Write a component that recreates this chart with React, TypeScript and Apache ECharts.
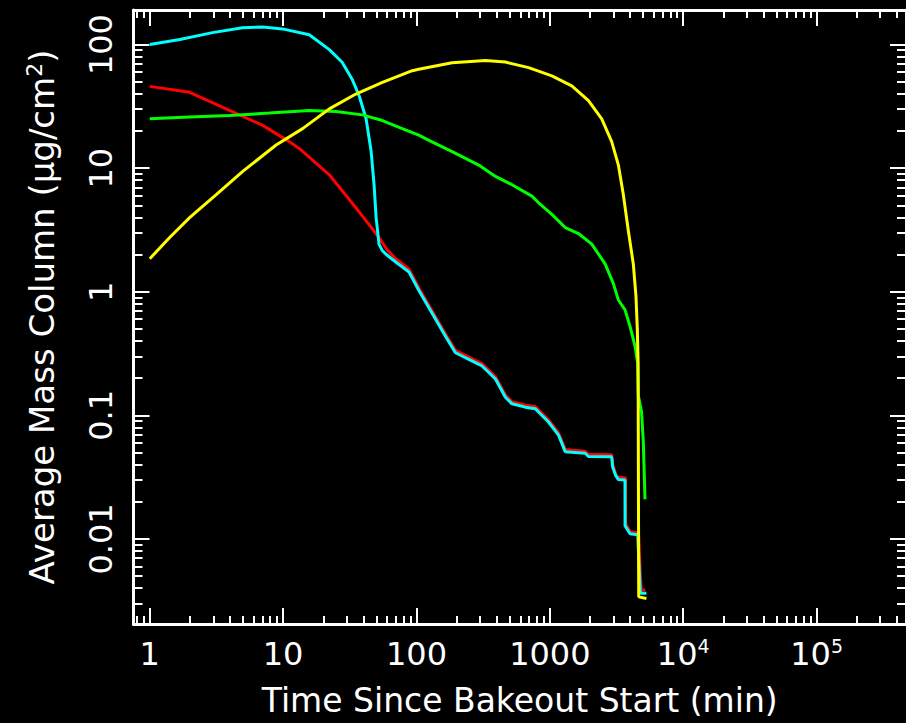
import React, { useEffect, useRef } from 'react';
import * as echarts from 'echarts';

// Axis ranges (values)
const X_MIN = 0.7552;
const X_MAX = 4.684e5;
const Y_MIN = 0.00205;
const Y_MAX = 190.5;

// Tick labels
const xMajorTicks = [1, 10, 100, 1000, 10000, 100000];
const xTickLabels = ['1', '10', '100', '1000', '10^4', '10^5'];
const yMajorTicks = [0.01, 0.1, 1, 10, 100];
const yTickLabels = ['0.01', '0.1', '1', '10', '100'];
const minorMantissas = [2, 3, 4, 5, 6, 7, 8, 9];
const xDecades = [-1, 0, 1, 2, 3, 4, 5];
const yDecades = [-3, -2, -1, 0, 1, 2];

// Series: [time (min), average mass column (ug/cm^2)]
const redSeries = [
  [1, 45.9], [1.99, 41.1], [3.96, 29.3], [7.03, 22.2], [11.1, 16.4], [13.2, 14.45], [22.2, 8.84],
  [35.1, 4.79], [52.4, 2.75], [60, 2.2], [69.9, 1.85], [87.9, 1.52], [104, 1.08], [131, 0.70],
  [165, 0.455], [196, 0.335], [247, 0.296], [310, 0.262], [391, 0.205], [464, 0.146], [520, 0.129],
  [655, 0.121], [778, 0.118], [977, 0.092], [1162, 0.072], [1304, 0.053], [1840, 0.0512],
  [1948, 0.0485], [2909, 0.048], [2960, 0.040], [3170, 0.0318], [3700, 0.0312], [3705, 0.0133],
  [4000, 0.0114], [4620, 0.0112], [4780, 0.005], [4850, 0.00386], [5200, 0.00386],
];
const cyanSeries = [
  [1, 100], [1.68, 110], [2.96, 125], [4.96, 137], [7.0, 139], [9.9, 134], [15.7, 120], [22.2, 91],
  [27.7, 72], [32.9, 52.5], [37.2, 38.4], [41.9, 25.1], [45.7, 13.7], [48.1, 7.3], [49.8, 4.0],
  [52.4, 2.42], [55.2, 2.17], [58.8, 2.02], [69.9, 1.74], [87.9, 1.445], [104, 1.03], [131, 0.67],
  [165, 0.437], [196, 0.321], [247, 0.284], [310, 0.251], [391, 0.197], [464, 0.14], [520, 0.124],
  [655, 0.1165], [778, 0.113], [977, 0.0884], [1162, 0.0692], [1304, 0.0508], [1840, 0.0494],
  [1948, 0.0464], [2909, 0.0462], [2960, 0.038], [3100, 0.033], [3265, 0.0302], [3660, 0.030],
  [3665, 0.0128], [3991, 0.011], [4560, 0.0108], [4760, 0.0038], [4800, 0.00363], [5300, 0.00363],
];
const greenSeries = [
  [1, 25.1], [1.99, 25.9], [3.96, 26.7], [7.89, 27.9], [15.7, 29.3], [24.9, 28.7], [39.3, 27.0],
  [55.5, 24.3], [78.3, 20.9], [104, 18.5], [124, 16.8], [185, 13.6], [293, 10.6], [391, 8.58],
  [520, 7.35], [734, 5.94], [824, 5.25], [1036, 4.23], [1304, 3.31], [1640, 2.96], [2062, 2.43],
  [2596, 1.68], [2995, 1.165], [3265, 0.858], [3663, 0.714], [3992, 0.525], [4352, 0.363],
  [4550, 0.267], [4606, 0.1445], [4875, 0.1063], [5020, 0.0612], [5170, 0.0209],
];
const yellowSeries = [
  [1, 1.85], [1.41, 2.75], [1.99, 3.98], [3.15, 6.11], [4.98, 9.41], [8.86, 15.4], [14.0, 20.9],
  [22.2, 30.2], [35.1, 39.8], [55.5, 49.4], [93, 61.5], [104, 63.1], [185, 71.4], [329, 74.5],
  [464, 72.2], [693, 65.1], [1035, 55.8], [1461, 46.4], [1948, 35.2], [2449, 25.1], [2909, 16.4],
  [3265, 10.6], [3556, 6.11], [3877, 3.12], [4226, 1.68], [4426, 0.912], [4529, 0.494],
  [4590, 0.267], [4640, 0.0034], [5300, 0.0033],
];

const FONT = 'DejaVu Sans';
const WHITE = '#ffffff';

function findLabel(v: number, ticks: number[], labels: string[]) {
  const i = ticks.findIndex((t) => Math.abs(Math.log10(v) - Math.log10(t)) < 1e-6);
  if (i < 0) return '';
  const lab = labels[i];
  if (lab.includes('^')) {
    const [b, e] = lab.split('^');
    return `{b|${b}}{s|${e}}`;
  }
  return `{b|${lab}}`;
}

const labelRich = {
  b: { fontFamily: FONT, fontSize: 32, lineHeight: 36, color: WHITE },
  s: { fontFamily: FONT, fontSize: 19, lineHeight: 18, color: WHITE, verticalAlign: 'top' },
};

export default function App() {
  const ref = useRef<HTMLDivElement>(null);
  useEffect(() => {
    if (!ref.current) return;
    const chart = echarts.init(ref.current, undefined, { renderer: 'svg' });
    const xLogMin = Math.log10(X_MIN);
    const xLogMax = Math.log10(X_MAX);
    const yLogMin = Math.log10(Y_MIN);
    const yLogMax = Math.log10(Y_MAX);
    const xMajorPos = xMajorTicks.map((t) => Math.log10(t));
    const yMajorPos = yMajorTicks.map((t) => Math.log10(t));
    const xMinorPos = xDecades
      .flatMap((d) => minorMantissas.map((m) => d + Math.log10(m)))
      .filter((v) => v > xLogMin && v < xLogMax);
    const yMinorPos = yDecades
      .flatMap((d) => minorMantissas.map((m) => d + Math.log10(m)))
      .filter((v) => v > yLogMin && v < yLogMax);

    const lineOn = { show: true, onZero: false, lineStyle: { color: WHITE, width: 3 } };
    const hidden = { show: false };

    const tickAxis = (pos: string, min: number, max: number, vals: number[], len: number) => ({
      type: 'value', position: pos, min, max,
      axisLine: { show: false, onZero: false }, axisLabel: hidden, splitLine: hidden,
      axisTick: { show: true, inside: true, length: len, customValues: vals, lineStyle: { color: WHITE, width: 2 } },
    });

    chart.setOption({
      animation: false,
      backgroundColor: '#000000',
      grid: { left: 133.5, top: 10, width: 775, height: 621, containLabel: false },
      xAxis: [
        {
          type: 'log', logBase: 10, position: 'bottom', min: X_MIN, max: X_MAX,
          axisLine: lineOn, axisTick: hidden, splitLine: hidden,
          axisLabel: {
            show: true, margin: 12, showMinLabel: false, showMaxLabel: false,
            formatter: (v: number) => findLabel(v, xMajorTicks, xTickLabels), rich: labelRich,
          },
          name: 'Time Since Bakeout Start (min)', nameLocation: 'middle', nameGap: 58,
          nameTextStyle: { fontFamily: FONT, fontSize: 33, lineHeight: 36, color: WHITE },
        },
        {
          type: 'log', logBase: 10, position: 'top', min: X_MIN, max: X_MAX,
          axisLine: lineOn, axisTick: hidden, splitLine: hidden, axisLabel: hidden,
        },
        tickAxis('bottom', xLogMin, xLogMax, xMajorPos, 16),
        tickAxis('bottom', xLogMin, xLogMax, xMinorPos, 8),
        tickAxis('top', xLogMin, xLogMax, xMajorPos, 16),
        tickAxis('top', xLogMin, xLogMax, xMinorPos, 8),
      ],
      yAxis: [
        {
          type: 'log', logBase: 10, position: 'left', min: Y_MIN, max: Y_MAX,
          axisLine: lineOn, axisTick: hidden, splitLine: hidden,
          axisLabel: {
            show: true, margin: 15, rotate: 90, showMinLabel: false, showMaxLabel: false,
            formatter: (v: number) => findLabel(v, yMajorTicks, yTickLabels), rich: labelRich,
          },
          name: '{a|Average Mass Column (μg/cm}{s|2}{a|)}', nameLocation: 'middle', nameGap: 74,
          nameTextStyle: {
            color: WHITE,
            rich: {
              a: { fontFamily: FONT, fontSize: 34, lineHeight: 36, color: WHITE },
              s: { fontFamily: FONT, fontSize: 22, lineHeight: 20, color: WHITE, verticalAlign: 'top' },
            },
          },
        },
        {
          type: 'log', logBase: 10, position: 'right', min: Y_MIN, max: Y_MAX,
          axisLine: lineOn, axisTick: hidden, splitLine: hidden, axisLabel: hidden,
        },
        tickAxis('left', yLogMin, yLogMax, yMajorPos, 16),
        tickAxis('left', yLogMin, yLogMax, yMinorPos, 9),
        tickAxis('right', yLogMin, yLogMax, yMajorPos, 16),
        tickAxis('right', yLogMin, yLogMax, yMinorPos, 9),
      ],
      series: [
        { name: 'red', data: redSeries, color: '#ff0000' },
        { name: 'cyan', data: cyanSeries, color: '#00ffff' },
        { name: 'green', data: greenSeries, color: '#00ff00' },
        { name: 'yellow', data: yellowSeries, color: '#ffff00' },
      ].map((s) => ({
        type: 'line', name: s.name, data: s.data, xAxisIndex: 0, yAxisIndex: 0,
        showSymbol: false, symbol: 'none', clip: true,
        lineStyle: { color: s.color, width: 3 }, itemStyle: { color: s.color },
      })),
    });
    return () => chart.dispose();
  }, []);
  return (
    <div
      ref={ref}
      style={{ position: 'fixed', left: 0, top: 0, width: 906, height: 723, background: '#000' }}
    />
  );
}
